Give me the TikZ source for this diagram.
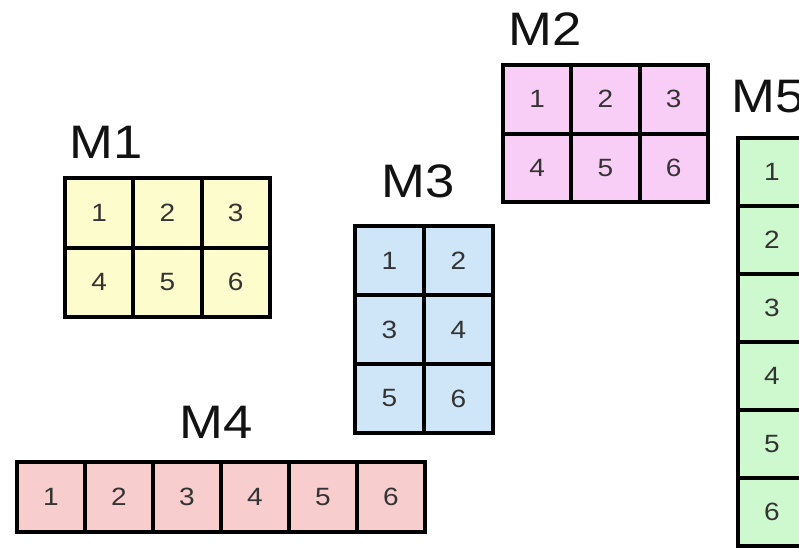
\documentclass[tikz,border=0pt]{standalone}
\usepackage{fontspec}
\setmainfont{Liberation Sans}
\newfontfamily\widesans[FakeStretch=1.12]{Liberation Sans}
\definecolor{cyel}{HTML}{FDFCCC}
\definecolor{cpink}{HTML}{F8CDF6}
\definecolor{cblue}{HTML}{CFE6F8}
\definecolor{cred}{HTML}{F8CDCD}
\definecolor{cgreen}{HTML}{CEF8CE}
\definecolor{numgray}{HTML}{333333}
\newcommand\mgrid[8]{%
  \foreach \r in {1,...,#5}{\foreach \c in {1,...,#4}{%
    \pgfmathtruncatemacro\k{(\r-1)*#4+\c}%
    \node[cell, fill=#8, minimum width=#6, minimum height=#7] (#1-\k)
      at ({#2+(\c-0.5)*#6},{#3+(\r-0.5)*#7}) {\k};
  }}}
\tikzset{
  cell/.style={draw=black, line width=4pt, inner sep=0pt, outer sep=0pt,
    font=\widesans\fontsize{25}{25}\selectfont, text=numgray},
  mlabel/.style={anchor=base west, inner sep=0pt, font=\widesans\fontsize{47}{47}\selectfont, text=black!93}
}
\begin{document}
\begin{tikzpicture}[x=1pt,y=-1pt]
\useasboundingbox (0,0) rectangle (799,547);
\clip (0,0) rectangle (799,547);
\mgrid{m1}{65}{178}{3}{2}{68.3}{69.5}{cyel}
\mgrid{m2}{503}{65}{3}{2}{68.3}{68.5}{cpink}
\mgrid{m3}{355}{226}{2}{3}{69}{69}{cblue}
\mgrid{m4}{17}{462}{6}{1}{68}{70}{cred}
\mgrid{m5}{738}{138}{1}{6}{68}{68}{cgreen}
\node[mlabel] (l1) at (69,158) {M1};
\node[mlabel] (l2) at (508,45) {M2};
\node[mlabel] (l3) at (381,197) {M3};
\node[mlabel] (l4) at (179,438) {M4};
\node[mlabel] (l5) at (731,112) {M5};
\end{tikzpicture}
\end{document}
